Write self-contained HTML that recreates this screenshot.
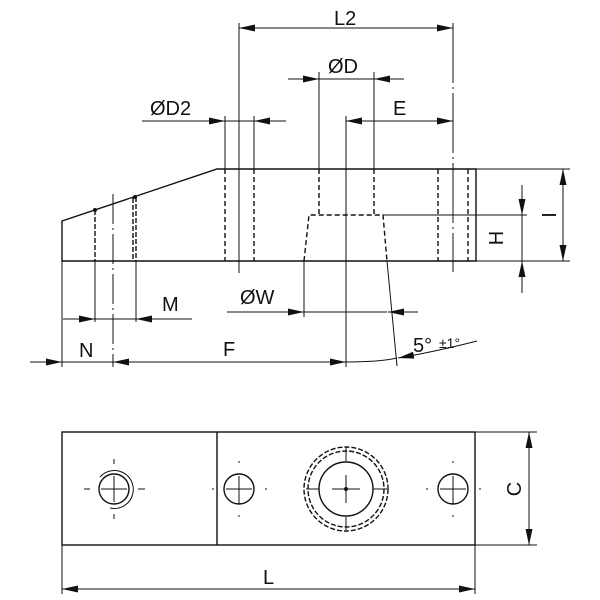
<!DOCTYPE html>
<html><head><style>body{margin:0;background:#fff}svg{display:block}text{font-family:"Liberation Sans",sans-serif;fill:#111}</style></head>
<body>
<svg width="600" height="600" viewBox="0 0 600 600" xmlns="http://www.w3.org/2000/svg">
<defs>
<marker id="a" viewBox="0 0 16 7" refX="16" refY="3.5" markerWidth="16" markerHeight="7" markerUnits="userSpaceOnUse" orient="auto-start-reverse"><path d="M0,0 L16,3.5 L0,7 Z" fill="#111"/></marker>
</defs>
<g stroke="#111" stroke-width="1.4" fill="none">
<path d="M62,261 L62,221 L217,169 L476,169 L476,261 Z"/>
<line x1="476" y1="169" x2="570" y2="169" stroke-width="1"/>
<line x1="476" y1="261" x2="570" y2="261" stroke-width="1"/>
<line x1="383" y1="215" x2="527" y2="215" stroke-width="1"/>
<line x1="438" y1="169" x2="438" y2="261" stroke-dasharray="5,3"/>
<line x1="468" y1="169" x2="468" y2="261" stroke-dasharray="5,3"/>
<line x1="453" y1="23" x2="453" y2="272" stroke-width="1" stroke-dasharray="60,4,2,4"/>
<line x1="225" y1="116" x2="225" y2="169" stroke-width="1"/>
<line x1="254" y1="116" x2="254" y2="169" stroke-width="1"/>
<line x1="225" y1="169" x2="225" y2="261" stroke-dasharray="5,3"/>
<line x1="254" y1="169" x2="254" y2="261" stroke-dasharray="5,3"/>
<line x1="239" y1="23" x2="239" y2="273" stroke-width="1"/>
<line x1="319" y1="72" x2="319" y2="169" stroke-width="1"/>
<line x1="374" y1="72" x2="374" y2="169" stroke-width="1"/>
<line x1="319" y1="169" x2="319" y2="215" stroke-dasharray="5,3"/>
<line x1="374" y1="169" x2="374" y2="215" stroke-dasharray="5,3"/>
<line x1="346" y1="116" x2="346" y2="367" stroke-width="1"/>
<path d="M304,261 L309,215 L383,215 L387,261" stroke-dasharray="5,3"/>
<line x1="304" y1="261" x2="304" y2="317" stroke-width="1"/>
<line x1="387" y1="261" x2="397" y2="366" stroke-width="1"/>
<line x1="95" y1="210" x2="95" y2="261" stroke-dasharray="5,2"/>
<line x1="133" y1="198" x2="133" y2="261" stroke-dasharray="5,2"/>
<line x1="136" y1="197" x2="136" y2="261" stroke-dasharray="5,2"/>
<circle cx="95" cy="210" r="1.3" fill="#111"/>
<circle cx="135" cy="197" r="1.3" fill="#111"/>
<line x1="95" y1="261" x2="95" y2="322" stroke-width="1"/>
<line x1="136" y1="261" x2="136" y2="322" stroke-width="1"/>
<line x1="113" y1="194" x2="113" y2="367" stroke-width="1" stroke-dasharray="30,4,2,4"/>
<line x1="62" y1="261" x2="62" y2="367" stroke-width="1"/>
<line x1="239" y1="28" x2="453" y2="28" stroke-width="1" marker-start="url(#a)" marker-end="url(#a)"/>
<line x1="288" y1="79" x2="319" y2="79" stroke-width="1" marker-end="url(#a)"/>
<line x1="319" y1="79" x2="374" y2="79" stroke-width="1"/>
<line x1="404" y1="79" x2="374" y2="79" stroke-width="1" marker-end="url(#a)"/>
<line x1="346" y1="121" x2="453" y2="121" stroke-width="1" marker-start="url(#a)" marker-end="url(#a)"/>
<line x1="142" y1="121" x2="225" y2="121" stroke-width="1" marker-end="url(#a)"/>
<line x1="286" y1="121" x2="254" y2="121" stroke-width="1" marker-end="url(#a)"/>
<line x1="225" y1="121" x2="254" y2="121" stroke-width="1"/>
<line x1="227" y1="312" x2="304" y2="312" stroke-width="1" marker-end="url(#a)"/>
<line x1="304" y1="312" x2="387" y2="312" stroke-width="1"/>
<line x1="418" y1="312" x2="388" y2="312" stroke-width="1" marker-end="url(#a)"/>
<line x1="63" y1="319" x2="95" y2="319" stroke-width="1" marker-end="url(#a)"/>
<line x1="95" y1="319" x2="136" y2="319" stroke-width="1"/>
<line x1="192" y1="319" x2="136" y2="319" stroke-width="1" marker-end="url(#a)"/>
<line x1="30" y1="362" x2="62" y2="362" stroke-width="1" marker-end="url(#a)"/>
<line x1="62" y1="362" x2="346" y2="362" stroke-width="1" marker-end="url(#a)"/>
<line x1="140" y1="362" x2="113" y2="362" stroke-width="1" marker-end="url(#a)"/>
<path d="M346,362 Q380,362 397,358" stroke-width="1"/>
<path d="M420,354 Q450,348 477,341" stroke-width="1"/>
<line x1="420" y1="354" x2="398" y2="358" stroke-width="1" marker-end="url(#a)"/>
<line x1="563" y1="169" x2="563" y2="261" stroke-width="1" marker-start="url(#a)" marker-end="url(#a)"/>
<line x1="522" y1="185" x2="522" y2="215" stroke-width="1" marker-end="url(#a)"/>
<line x1="522" y1="293" x2="522" y2="261" stroke-width="1" marker-end="url(#a)"/>
<line x1="522" y1="215" x2="522" y2="261" stroke-width="1"/>
<rect x="62" y="432" width="413" height="113"/>
<line x1="217" y1="432" x2="217" y2="545"/>
<circle cx="114" cy="489" r="15"/>
<path d="M100,477 A19,19 0 1 1 110,508" stroke-width="1"/>
<circle cx="239" cy="489" r="15"/>
<circle cx="453" cy="489" r="15"/>
<circle cx="346" cy="489" r="27"/>
<circle cx="346" cy="489" r="38" stroke-dasharray="5,2"/>
<circle cx="346" cy="489" r="42" stroke-dasharray="5,2"/>
<g stroke-width="1">
<path d="M101,489H127M114,476V502M84,489H90M138,489H145M114,459V464M114,514V519"/>
<path d="M226,489H252M239,476V504M212,489H214M265,489H267M239,461V463M239,515V517"/>
<path d="M440,489H466M453,476V504M426,489H428M479,489H481M453,461V463M453,515V517"/>
<path d="M332,489H360M346,475V503M306,489H319M373,489H387M346,447V461M346,517V530"/>
</g>
<circle cx="346" cy="489" r="1.3" fill="#111"/>
<line x1="475" y1="432" x2="537" y2="432" stroke-width="1"/>
<line x1="475" y1="545" x2="537" y2="545" stroke-width="1"/>
<line x1="529" y1="432" x2="529" y2="545" stroke-width="1" marker-start="url(#a)" marker-end="url(#a)"/>
<line x1="62" y1="545" x2="62" y2="594" stroke-width="1"/>
<line x1="475" y1="545" x2="475" y2="594" stroke-width="1"/>
<line x1="62" y1="589" x2="475" y2="589" stroke-width="1" marker-start="url(#a)" marker-end="url(#a)"/>
</g>
<g font-size="20">
<text x="334" y="25">L2</text>
<text x="328" y="73">ØD</text>
<text x="393" y="115">E</text>
<text x="150" y="115">ØD2</text>
<text x="240" y="304">ØW</text>
<text x="162" y="311">M</text>
<text x="79" y="357">N</text>
<text x="223" y="356">F</text>
<text x="413" y="352">5°</text>
<text x="439" y="348" font-size="14">±1°</text>
<text x="263" y="584">L</text>
<text transform="translate(503,238) rotate(-90)" text-anchor="middle">H</text>
<text transform="translate(556,215) rotate(-90)" text-anchor="middle">I</text>
<text transform="translate(521,489) rotate(-90)" text-anchor="middle">C</text>
</g>
</svg>
</body></html>
